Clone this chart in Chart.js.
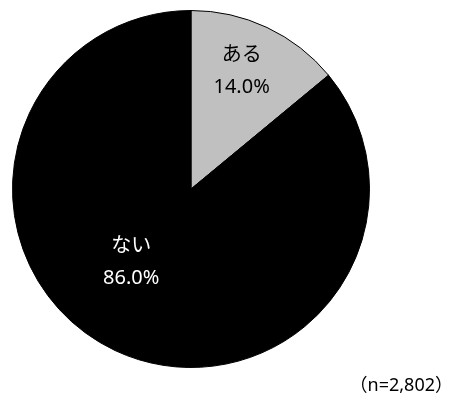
<!DOCTYPE html>
<html>
<head>
<meta charset="utf-8">
<script src="https://cdn.jsdelivr.net/npm/chart.js@4"></script>
<style>
  html, body { margin: 0; padding: 0; background: #fff; }
  #wrap { position: relative; width: 454px; height: 399px; }
</style>
</head>
<body>
<div id="wrap"><canvas id="pieChart" width="454" height="399"></canvas></div>
<script>
const categories = ['ある', 'ない'];
const percents = [14.0, 86.0];
const sampleNote = '（n=2,802）';

const sliceColors = ['#C0C0C0', '#000000'];
const labelColors = ['#000000', '#FFFFFF'];
// position du libellé : décalage d'angle (degrés) et fraction du rayon
const labelPlace = [{ da: -2, f: 0.72 }, { da: 14, f: 0.53 }];
const fontFamily = '"Noto Sans", "Noto Sans CJK JP", sans-serif';

const sliceLabels = {
    id: 'sliceLabels',
    afterDatasetsDraw(chart) {
        const ctx = chart.ctx;
        const meta = chart.getDatasetMeta(0);
        ctx.save();
        ctx.textAlign = 'center';
        ctx.textBaseline = 'middle';
        ctx.font = '20px ' + fontFamily;
        meta.data.forEach((arc, i) => {
            const p = arc.getProps(['x', 'y', 'startAngle', 'endAngle', 'outerRadius'], true);
            const mid = (p.startAngle + p.endAngle) / 2 + labelPlace[i].da * Math.PI / 180;
            const r = p.outerRadius * labelPlace[i].f;
            const x = p.x + Math.cos(mid) * r;
            const y = p.y + Math.sin(mid) * r;
            ctx.fillStyle = labelColors[i];
            ctx.fillText(categories[i], x, y - 16);
            ctx.fillText(percents[i].toFixed(1) + '%', x, y + 16);
        });
        // note d'effectif en bas à droite
        ctx.fillStyle = '#000';
        ctx.textAlign = 'right';
        ctx.font = '18px ' + fontFamily;
        ctx.fillText(sampleNote, 453, 386);
        ctx.restore();
    }
};

new Chart(document.getElementById('pieChart'), {
    type: 'pie',
    data: {
        labels: categories,
        datasets: [{
            data: percents,
            backgroundColor: sliceColors,
            borderColor: '#000000',
            borderWidth: 1
        }]
    },
    options: {
        responsive: false,
        animation: false,
        layout: { padding: { left: 12, right: 84, top: 10, bottom: 31 } },
        plugins: {
            legend: { display: false },
            tooltip: { enabled: false }
        }
    },
    plugins: [sliceLabels]
});
</script>
</body>
</html>
